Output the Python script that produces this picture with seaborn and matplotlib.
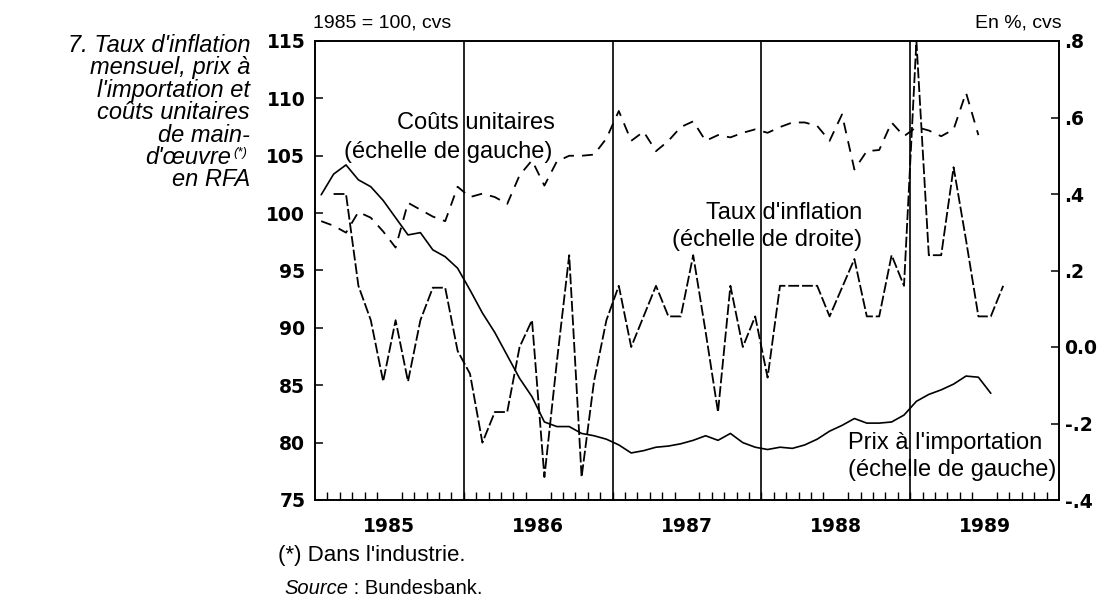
import matplotlib
import matplotlib.pyplot as plt
import numpy as np
import pandas as pd
import seaborn as sns

matplotlib.use("Agg")

# monthly series
prices_start = "1985-01"
import_prices = [
    101.6, 103.4, 104.2, 102.9, 102.3, 101.1, 99.6, 98.1, 98.3, 96.8, 96.2, 95.2,
    93.3, 91.3, 89.6, 87.6, 85.6, 84.0, 81.8, 81.4, 81.4, 80.8, 80.6, 80.3,
    79.8, 79.1, 79.3, 79.6, 79.7, 79.9, 80.2, 80.6, 80.2, 80.8, 80.0, 79.6,
    79.4, 79.6, 79.5, 79.8, 80.3, 81.0, 81.5, 82.1, 81.7, 81.7, 81.8, 82.4,
    83.6, 84.2, 84.6, 85.1, 85.8, 85.7, 84.3,
]

costs_start = "1985-01"
unit_costs = [
    99.3, 98.9, 98.3, 100.1, 99.6, 98.4, 97.0, 100.9, 100.3, 99.7, 99.3, 102.3,
    101.4, 101.7, 101.4, 100.8, 103.3, 104.6, 102.4, 104.5, 105.0, 105.0, 105.1, 106.5,
    108.9, 106.3, 107.1, 105.4, 106.3, 107.5, 108.0, 106.3, 106.8, 106.6, 107.0, 107.3,
    107.0, 107.5, 107.9, 107.9, 107.6, 106.3, 108.6, 103.8, 105.4, 105.5, 107.9, 106.7,
    107.5, 107.2, 106.7, 107.3, 110.5, 106.8,
]

inflation_start = "1985-02"
inflation = [
    0.40, 0.40, 0.16, 0.07, -0.09, 0.07, -0.09, 0.07, 0.155, 0.155, -0.01,
    -0.07, -0.25, -0.17, -0.17, 0.0, 0.07, -0.34, -0.04, 0.24, -0.34, -0.09, 0.07,
    0.16, 0.0, 0.08, 0.16, 0.08, 0.08, 0.24, 0.04, -0.17, 0.16, 0.0, 0.08,
    -0.08, 0.16, 0.16, 0.16, 0.16, 0.08, 0.155, 0.23, 0.08, 0.08, 0.24, 0.16,
    0.80, 0.24, 0.24, 0.47, 0.28, 0.08, 0.08, 0.16,
]

years = [1985, 1986, 1987, 1988, 1989]
year_labels = ["1985", "1986", "1987", "1988", "1989"]
left_ticks = [75, 80, 85, 90, 95, 100, 105, 110, 115]
right_ticks = [-0.4, -0.2, 0.0, 0.2, 0.4, 0.6, 0.8]
right_tick_labels = ["-.4", "-.2", "0.0", ".2", ".4", ".6", ".8"]

W, H = 1106, 599


def monthly_df(values, first):
    months = pd.period_range(first, periods=len(values), freq="M")
    return pd.DataFrame({"t": months.year + (months.month - 0.5) / 12, "value": values})


def px_text(fig, x, y, s, **kw):
    return fig.text(x / W, 1 - y / H, s, va="center", color="black", **kw)


sns.set_style("ticks")
plt.rcParams["font.family"] = ["Liberation Sans", "DejaVu Sans"]
plt.rcParams["text.color"] = "black"

fig = plt.figure(figsize=(W / 100, H / 100), dpi=100)
ax = fig.add_axes([315 / W, 1 - 500 / H, (1059 - 315) / W, (500 - 41) / H])
ax2 = ax.twinx()

sns.lineplot(data=monthly_df(import_prices, prices_start), x="t", y="value",
             ax=ax, color="black", lw=1.2, errorbar=None)
sns.lineplot(data=monthly_df(unit_costs, costs_start), x="t", y="value",
             ax=ax, color="black", lw=1.3, errorbar=None, linestyle=(0, (6, 4.5)))
sns.lineplot(data=monthly_df(inflation, inflation_start), x="t", y="value",
             ax=ax2, color="black", lw=1.3, errorbar=None, linestyle=(0, (6, 1.6)))

for y in years[1:]:
    ax.axvline(y, color="black", lw=1.2)

ax.set_xlim(1985, 1990)
ax.set_ylim(75, 115)
ax2.set_ylim(-0.4, 0.8)
ax.set_xlabel("")
ax.set_ylabel("")
ax2.set_ylabel("")

ax.set_xticks([y + 0.5 for y in years])
ax.set_xticklabels(year_labels)
ax.set_xticks([1985 + k / 12 for k in range(1, 60)], minor=True)
ax.tick_params(axis="x", which="major", length=0, pad=12, labelcolor="black")
ax.tick_params(axis="x", which="minor", direction="in", length=5.5, width=1.0, color="black")

ax.set_yticks(left_ticks)
ax.tick_params(axis="y", direction="in", length=6, width=1.1, pad=7, color="black",
               labelcolor="black")
ax2.set_yticks(right_ticks)
ax2.set_yticklabels(right_tick_labels)
ax2.tick_params(axis="y", direction="in", length=6, width=1.1, pad=4, color="black",
                labelcolor="black")

for lab in ax.get_xticklabels() + ax.get_yticklabels() + ax2.get_yticklabels():
    lab.set_fontfamily("DejaVu Sans")
    lab.set_fontweight("bold")
    lab.set_fontsize(13.5)

for a in (ax, ax2):
    for sp in a.spines.values():
        sp.set_visible(True)
        sp.set_color("black")
        sp.set_linewidth(1.2)

# title block on the left, one text per line
title_lines = ["7. Taux d'inflation", "mensuel, prix à", "l'importation et",
               "coûts unitaires", "de main-", "d'œuvre", "en RFA"]
title_y = [45, 67.5, 90, 112.5, 135, 157.5, 180]
for line, y in zip(title_lines, title_y):
    xr = 250 if line != "d'œuvre" else 231
    t = px_text(fig, xr, y, line, ha="right", style="italic", fontsize=17)
    if line == "d'œuvre":
        ax.annotate("(*)", xy=(1, 1), xycoords=t, xytext=(2, -1), textcoords="offset points",
                    ha="left", va="top", style="italic", fontsize=9.5, color="black",
                    annotation_clip=False)

px_text(fig, 313, 23, "1985 = 100, cvs", ha="left", fontsize=14)
px_text(fig, 1062, 23, "En %, cvs", ha="right", fontsize=14)

px_text(fig, 555, 123, "Coûts unitaires", ha="right", fontsize=17)
px_text(fig, 552, 152, "(échelle de gauche)", ha="right", fontsize=17)
px_text(fig, 862, 213, "Taux d'inflation", ha="right", fontsize=17)
px_text(fig, 862, 240, "(échelle de droite)", ha="right", fontsize=17)
px_text(fig, 848, 443, "Prix à l'importation", ha="left", fontsize=17)
px_text(fig, 848, 470, "(échelle de gauche)", ha="left", fontsize=17)

px_text(fig, 278, 556, "(*) Dans l'industrie.", ha="left", fontsize=16)
src = px_text(fig, 284, 588, "Source", ha="left", style="italic", fontsize=14.5)
ax.annotate(" : Bundesbank.", xy=(1, 0), xycoords=src, ha="left", va="bottom",
            fontsize=14.5, color="black", annotation_clip=False)

fig.savefig("out.png", dpi=100)
